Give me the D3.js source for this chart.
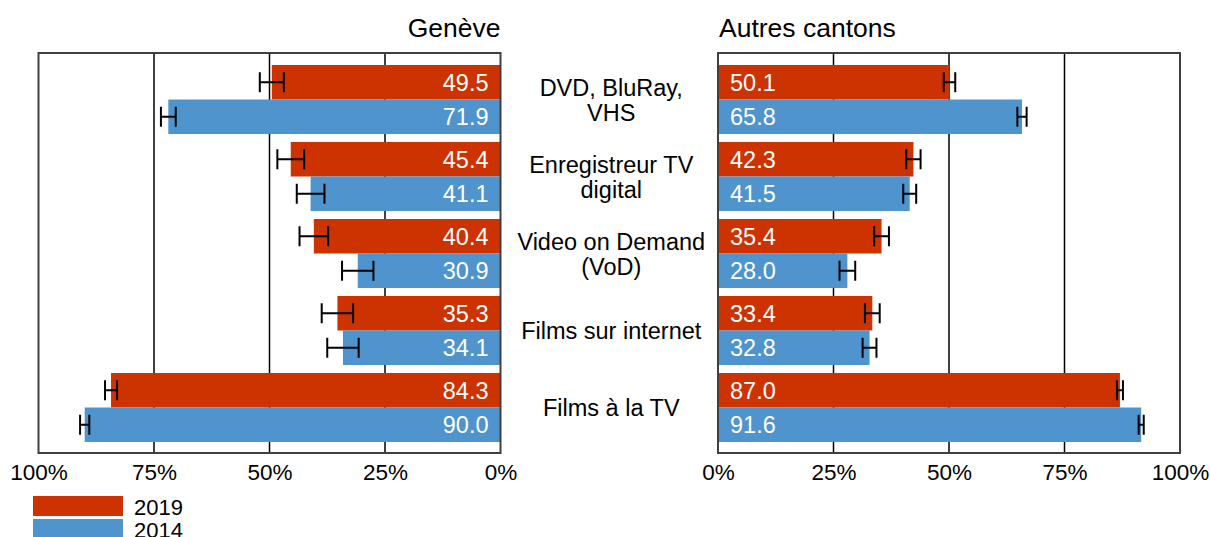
<!DOCTYPE html>
<html>
<head>
<meta charset="utf-8">
<script src="https://cdn.jsdelivr.net/npm/d3@7"></script>
<style>
  body { margin: 0; background: #fff; }
  svg { display: block; font-family: "Liberation Sans", Arial, sans-serif; }
</style>
</head>
<body>
<svg width="1210" height="537"></svg>
<script>
// data
var categories = ["DVD, BluRay, VHS", "Enregistreur TV digital", "Video on Demand (VoD)", "Films sur internet", "Films à la TV"];
var categoryLines = [["DVD, BluRay,", "VHS"], ["Enregistreur TV", "digital"], ["Video on Demand", "(VoD)"], ["Films sur internet"], ["Films à la TV"]];
var years = ["2019", "2014"];
var yearColors = ["#cc3300", "#4f94cd"];

var geneve2019 = [49.5, 45.4, 40.4, 35.3, 84.3];
var geneve2014 = [71.9, 41.1, 30.9, 34.1, 90.0];
var geneveErr2019 = [2.6, 2.9, 3.1, 3.4, 1.3];
var geneveErr2014 = [1.6, 3.0, 3.4, 3.4, 1.0];

var autres2019 = [50.1, 42.3, 35.4, 33.4, 87.0];
var autres2014 = [65.8, 41.5, 28.0, 32.8, 91.6];
var autresErr2019 = [1.25, 1.55, 1.6, 1.6, 0.65];
var autresErr2014 = [1.0, 1.4, 1.7, 1.5, 0.55];

var tickValues = [0, 25, 50, 75, 100];
var gridValues = [25, 50, 75];

var svg = d3.select("svg");

var frameTop = 53, frameBottom = 453;

// category bands, then one sub band per year
var y = d3.scaleBand()
    .domain(categories)
    .range([61, 446])
    .paddingInner(0.104)
    .paddingOuter(0.052);

var ySub = d3.scaleBand()
    .domain(years)
    .range([0, y.bandwidth()]);

// left panel grows to the left, right panel to the right
var xLeft = d3.scaleLinear().domain([0, 100]).range([500.5, 38.5]);
var xRight = d3.scaleLinear().domain([0, 100]).range([718, 1180]);

function panel(x, vals2019, vals2014, err2019, err2014, title, leftSide) {
    var g = svg.append("g");

    var rows = [];
    categories.forEach(function (c, i) {
        rows.push({ cat: c, year: "2019", v: vals2019[i], e: err2019[i], color: yearColors[0] });
        rows.push({ cat: c, year: "2014", v: vals2014[i], e: err2014[i], color: yearColors[1] });
    });

    // grid lines behind bars
    g.selectAll(".grid")
        .data(gridValues)
        .enter().append("line")
        .attr("x1", function (d) { return x(d); })
        .attr("x2", function (d) { return x(d); })
        .attr("y1", frameTop)
        .attr("y2", frameBottom)
        .attr("stroke", "#000")
        .attr("stroke-width", 1.5);

    // bars
    g.selectAll(".bar")
        .data(rows)
        .enter().append("rect")
        .attr("x", function (d) { return Math.min(x(0), x(d.v)); })
        .attr("width", function (d) { return Math.abs(x(d.v) - x(0)); })
        .attr("y", function (d) { return y(d.cat) + ySub(d.year); })
        .attr("height", ySub.bandwidth())
        .attr("fill", function (d) { return d.color; });

    // value labels inside bars
    g.selectAll(".val")
        .data(rows)
        .enter().append("text")
        .attr("x", leftSide ? x(0) - 12 : x(0) + 12)
        .attr("y", function (d) { return y(d.cat) + ySub(d.year) + ySub.bandwidth() / 2 + 8.5; })
        .attr("text-anchor", leftSide ? "end" : "start")
        .attr("fill", "#fff")
        .style("font-size", "23.5px")
        .text(function (d) { return d.v.toFixed(1); });

    // error bars
    var eb = g.selectAll(".err")
        .data(rows)
        .enter().append("g")
        .attr("stroke", "#000")
        .attr("stroke-width", 2);

    function cy(d) { return y(d.cat) + ySub(d.year) + ySub.bandwidth() / 2; }

    eb.append("line")
        .attr("x1", function (d) { return x(d.v - d.e); })
        .attr("x2", function (d) { return x(d.v + d.e); })
        .attr("y1", cy).attr("y2", cy);
    [-1, 1].forEach(function (s) {
        eb.append("line")
            .attr("x1", function (d) { return x(d.v + s * d.e); })
            .attr("x2", function (d) { return x(d.v + s * d.e); })
            .attr("y1", function (d) { return cy(d) - 10; })
            .attr("y2", function (d) { return cy(d) + 10; });
    });

    // frame
    g.append("rect")
        .attr("x", Math.min(x(0), x(100)))
        .attr("y", frameTop)
        .attr("width", Math.abs(x(100) - x(0)))
        .attr("height", frameBottom - frameTop)
        .attr("fill", "none")
        .attr("stroke", "#404040")
        .attr("stroke-width", 2);

    // axis
    var axis = d3.axisBottom(x)
        .tickValues(tickValues)
        .tickFormat(function (d) { return d + "%"; })
        .tickSize(0)
        .tickPadding(0);
    var ax = svg.append("g")
        .attr("transform", "translate(0," + frameBottom + ")")
        .call(axis);
    ax.select(".domain").remove();
    ax.selectAll("text")
        .attr("dy", null)
        .attr("y", 27)
        .attr("fill", "#000")
        .style("font-size", "22.5px")
        .style("font-family", "'Liberation Sans', Arial, sans-serif");

    // title
    svg.append("text")
        .attr("x", leftSide ? x(0) : x(0) + 1)
        .attr("y", 37)
        .attr("text-anchor", leftSide ? "end" : "start")
        .style("font-size", "26.5px")
        .text(title);
}

panel(xLeft, geneve2019, geneve2014, geneveErr2019, geneveErr2014, "Genève", true);
panel(xRight, autres2019, autres2014, autresErr2019, autresErr2014, "Autres cantons", false);

// category labels in the middle
var labelX = (xLeft(0) + xRight(0)) / 2 + 2;
var lab = svg.append("g").selectAll(".cat")
    .data(categories)
    .enter().append("text")
    .attr("text-anchor", "middle")
    .style("font-size", "23.5px");

lab.each(function (c, i) {
    var lines = categoryLines[i];
    var center = y(c) + y.bandwidth() / 2;
    var first = center + 8.5 - (lines.length - 1) * 12.5;
    d3.select(this).selectAll("tspan")
        .data(lines)
        .enter().append("tspan")
        .attr("x", labelX)
        .attr("y", function (d, j) { return first + j * 25; })
        .text(function (d) { return d; });
});

// legend (bottom row is cut by the picture edge, as in the original)
var legend = svg.append("g").selectAll(".leg")
    .data(years)
    .enter().append("g")
    .attr("transform", function (d, i) { return "translate(33," + (496 + i * 23) + ")"; });

legend.append("rect")
    .attr("width", 90)
    .attr("height", 20)
    .attr("fill", function (d, i) { return yearColors[i]; });

legend.append("text")
    .attr("x", 101)
    .attr("y", 19)
    .style("font-size", "22px")
    .text(function (d) { return d; });
</script>
</body>
</html>
